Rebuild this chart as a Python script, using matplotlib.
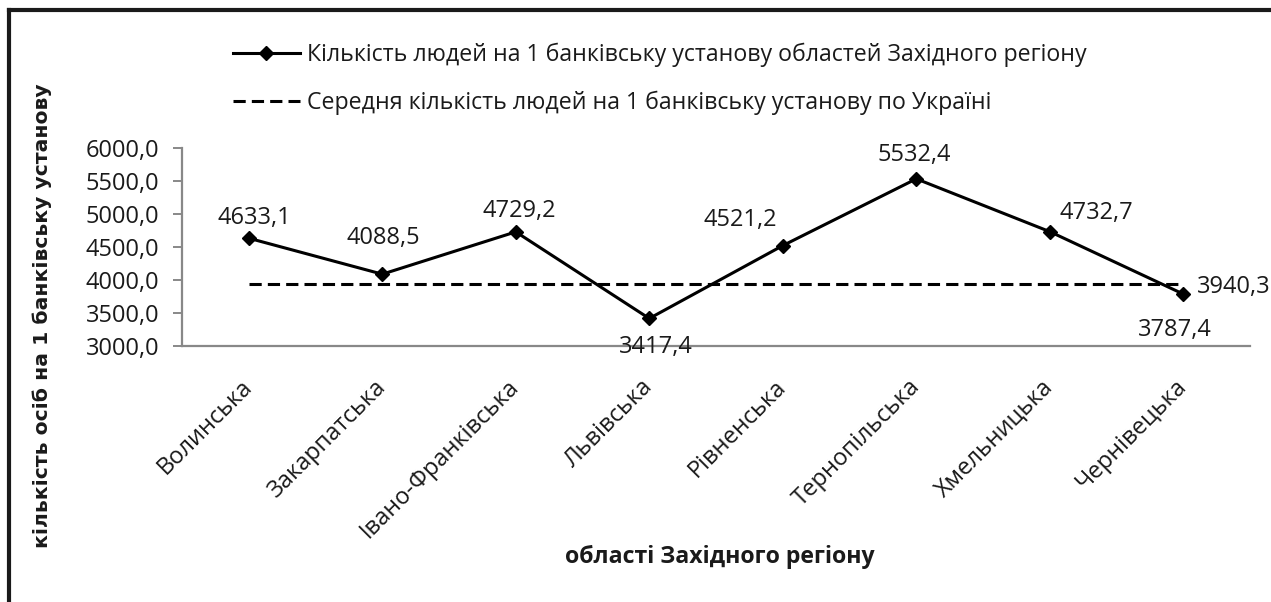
import matplotlib
matplotlib.use("Agg")
import matplotlib.pyplot as plt
from matplotlib.lines import Line2D

plt.rcParams['font.family'] = ['Open Sans', 'DejaVu Sans']

regions = ['Волинська', 'Закарпатська', 'Івано-Франківська', 'Львівська',
           'Рівненська', 'Тернопільська', 'Хмельницька', 'Чернівецька']
people_per_bank = [4633.1, 4088.5, 4729.2, 3417.4, 4521.2, 5532.4, 4732.7, 3787.4]
ukraine_avg = 3940.3

label_main = 'Кількість людей на 1 банківську установу областей Західного регіону'
label_avg = 'Середня кількість людей на 1 банківську установу по Україні'

# label offsets in pixels (dx, dy) relative to each marker
offsets = [(6, 20), (1, 36), (3, 21), (7, -29), (-43, 26), (-2, 24), (47, 19), (-8, -36)]

fig = plt.figure(figsize=(12.71, 6.02), dpi=100)
ax = fig.add_axes([0.1432, 0.4252, 0.8403, 0.3290])

x = list(range(len(regions)))
ax.plot(x, people_per_bank, color='black', lw=2.2, marker='D', ms=7,
        label=label_main)
ax.plot([x[0], x[-1]], [ukraine_avg, ukraine_avg], color='black', lw=2.2,
        ls=(0, (4, 2)), label=label_avg)

fmt = lambda v: f'{v:.1f}'.replace('.', ',')
for xi, v, (dx, dy) in zip(x, people_per_bank, offsets):
    ax.annotate(fmt(v), (xi, v), xytext=(dx * 0.72, dy * 0.72),
                textcoords='offset points', ha='center', va='center',
                fontsize=17, color='#1a1a1a')
ax.annotate(fmt(ukraine_avg), (x[-1], ukraine_avg), xytext=(50 * 0.72, -3 * 0.72),
            textcoords='offset points', ha='center', va='center',
            fontsize=17, color='#1a1a1a')

ax.set_xlim(-0.5, len(regions) - 0.5)
ax.set_ylim(3000, 6000)
ax.set_yticks([3000, 3500, 4000, 4500, 5000, 5500, 6000])
ax.set_yticklabels([fmt(t) for t in ax.get_yticks()])
ax.set_xticks(x)
ax.set_xticklabels(regions, rotation=45, ha='right', va='center',
                   rotation_mode='anchor')

for s in ['top', 'right']:
    ax.spines[s].set_visible(False)
for s in ['left', 'bottom']:
    ax.spines[s].set_color('#888888')
    ax.spines[s].set_linewidth(1.6)
ax.tick_params(axis='y', length=6.5, width=1.4, color='#888888', pad=10,
               labelsize=17, labelcolor='#1a1a1a')
ax.tick_params(axis='x', length=0, pad=27, labelsize=17, labelcolor='#1a1a1a')

fig.text(0.033, 0.475, 'кількість осіб на 1 банківську установу', rotation=90,
         ha='center', va='center', fontsize=14.7, fontweight='bold',
         family='DejaVu Sans', color='#1a1a1a')
fig.text(0.566, 0.075, 'області Західного регіону', ha='center', va='center',
         fontsize=16.7, fontweight='bold', color='#1a1a1a')

ax.legend(loc='upper left', bbox_to_anchor=(0.174, 0.948),
          bbox_transform=fig.transFigure, frameon=False, fontsize=16.7,
          handlelength=2.9, handletextpad=0.3, labelspacing=1.0,
          borderpad=0, labelcolor='#1a1a1a')

# thick frame around the chart (top and left visible)
fig.add_artist(Line2D([0.0067, 1.0], [0.9826, 0.9826], color='#1a1a1a', lw=3,
                      transform=fig.transFigure))
fig.add_artist(Line2D([0.0067, 0.0067], [0.0, 0.9826], color='#1a1a1a', lw=3,
                      transform=fig.transFigure))

fig.savefig('out.png', dpi=100)
